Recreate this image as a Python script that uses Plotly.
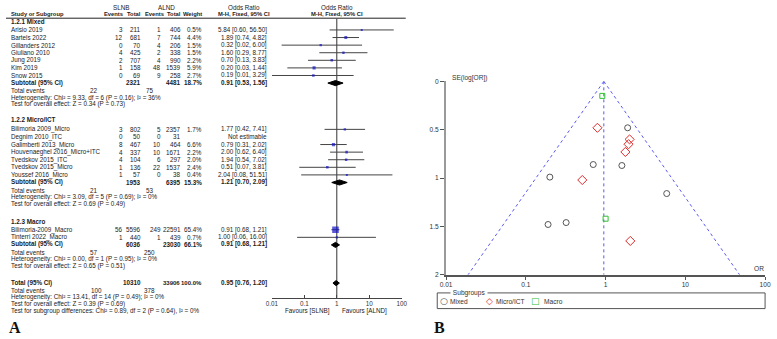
import math
import plotly.graph_objects as go

W, H = 777, 339

# ---------------- data ----------------
mixed_study = ["Arisio 2019", "Bartels 2022", "Gillanders 2012", "Giuliano 2010",
               "Jung 2019", "Kim 2019", "Snow 2015"]
mixed_slnb_events = [3, 12, 0, 4, 2, 1, 0]
mixed_slnb_total = [211, 681, 70, 425, 707, 158, 69]
mixed_alnd_events = [1, 7, 4, 2, 4, 48, 9]
mixed_alnd_total = [406, 744, 206, 338, 990, 1539, 258]
mixed_weight = [0.5, 4.4, 1.5, 1.5, 2.2, 5.9, 2.7]
mixed_or = [5.84, 1.89, 0.32, 1.60, 0.70, 0.20, 0.19]
mixed_lo = [0.60, 0.74, 0.02, 0.29, 0.13, 0.03, 0.01]
mixed_hi = [56.50, 4.82, 6.00, 8.77, 3.83, 1.44, 3.29]
mixed_sub = dict(slnb_total=2321, alnd_total=4481, weight=18.7, or_=0.91, lo=0.53, hi=1.56,
                 ev_slnb=22, ev_alnd=75,
                 het="Heterogeneity: Chi² = 9.33, df = 6 (P = 0.16); I² = 36%",
                 test="Test for overall effect: Z = 0.34 (P = 0.73)")

micro_study = ["Bilimoria 2009_Micro", "Degnim 2010_ITC", "Galimberti 2013_Micro",
               "Houvenaeghel 2016_Micro+ITC", "Tvedskov 2015_ITC", "Tvedskov 2015_Micro",
               "Youssef 2016_Micro"]
micro_slnb_events = [3, 0, 8, 4, 4, 1, 1]
micro_slnb_total = [802, 50, 467, 337, 104, 136, 57]
micro_alnd_events = [5, 0, 10, 10, 6, 22, 0]
micro_alnd_total = [2357, 31, 464, 1671, 297, 1537, 38]
micro_weight = [1.7, None, 6.6, 2.2, 2.0, 2.4, 0.4]
micro_or = [1.77, None, 0.79, 2.00, 1.94, 0.51, 2.04]
micro_lo = [0.42, None, 0.31, 0.62, 0.54, 0.07, 0.08]
micro_hi = [7.41, None, 2.02, 6.40, 7.02, 3.81, 51.51]
micro_sub = dict(slnb_total=1953, alnd_total=6395, weight=15.3, or_=1.21, lo=0.70, hi=2.09,
                 ev_slnb=21, ev_alnd=53,
                 het="Heterogeneity: Chi² = 3.09, df = 5 (P = 0.69); I² = 0%",
                 test="Test for overall effect: Z = 0.69 (P = 0.49)")

macro_study = ["Bilimoria-2009_Macro", "Tinterri 2022_Macro"]
macro_slnb_events = [56, 1]
macro_slnb_total = [5596, 440]
macro_alnd_events = [249, 1]
macro_alnd_total = [22591, 439]
macro_weight = [65.4, 0.7]
macro_or = [0.91, 1.00]
macro_lo = [0.68, 0.06]
macro_hi = [1.21, 16.00]
macro_sub = dict(slnb_total=6036, alnd_total=23030, weight=66.1, or_=0.91, lo=0.68, hi=1.21,
                 ev_slnb=57, ev_alnd=250,
                 het="Heterogeneity: Chi² = 0.00, df = 1 (P = 0.95); I² = 0%",
                 test="Test for overall effect: Z = 0.65 (P = 0.51)")

overall = dict(slnb_total=10310, alnd_total=33906, weight=100.0, or_=0.95, lo=0.76, hi=1.20,
               ev_slnb=100, ev_alnd=378,
               het="Heterogeneity: Chi² = 13.41, df = 14 (P = 0.49); I² = 0%",
               test="Test for overall effect: Z = 0.39 (P = 0.69)",
               sub="Test for subgroup differences: Chi² = 0.89, df = 2 (P = 0.64), I² = 0%")

section_titles = ["1.2.1 Mixed", "1.2.2 Micro/ICT", "1.2.3 Macro"]
forest_ticks = [0.01, 0.1, 1, 10, 100]
forest_ticktext = ["0.01", "0.1", "1", "10", "100"]

# funnel plot points (OR, SE(log OR)) per subgroup
funnel_mixed_or = [5.84, 1.89, 0.32, 1.60, 0.70, 0.20, 0.19]
funnel_mixed_se = [1.16, 0.48, 1.46, 0.87, 0.86, 0.99, 1.48]
funnel_micro_or = [1.77, 0.79, 2.00, 1.94, 0.51, 2.04]
funnel_micro_se = [0.73, 0.48, 0.60, 0.65, 1.02, 1.65]
funnel_macro_or = [0.91, 1.00]
funnel_macro_se = [0.15, 1.42]
funnel_pooled_or = 0.95
funnel_se_max = 2.0
funnel_yticks = [0, 0.5, 1, 1.5, 2]
funnel_yticktext = ["0", "0.5", "1", "1.5", "2"]
subgroup_names = ["Mixed", "Micro/ICT", "Macro"]

# ---------------- styling / layout ----------------
FONT = "Liberation Sans, Arial, sans-serif"
FS = 6.3
HFS = 5.8
TC = "#1a1a1a"
ROW = 7.75

COL_EV1, COL_TOT1, COL_EV2, COL_TOT2, COL_WT, COL_CI = 120, 138, 158, 179, 200, 266
COL_TEV1, COL_TEV2 = 89, 146

ANN = []


def txt(px, py, s, align="left", bold=False, size=FS, color=TC, family=FONT, bg=None):
    if bold:
        s = "<b>" + s + "</b>"
    d = dict(x=px / W, y=py, xref="paper", yref="y", text=s, showarrow=False,
             xanchor=align, yanchor="middle", borderpad=0,
             font=dict(size=size, color=color, family=family))
    if bg:
        d["bgcolor"] = bg
    ANN.append(d)


def fmt_ci(o, lo, hi):
    return f"{o:.2f} [{lo:.2f}, {hi:.2f}]"


fig = go.Figure()

# headers
txt(117, 3.5, "SLNB", "center")
txt(163, 3.5, "ALND", "center")
txt(242, 3.5, "Odds Ratio", "center")
txt(336, 3.5, "Odds Ratio", "center")
txt(4, 10.5, "Study or Subgroup", "left", bold=True, size=HFS)
txt(COL_EV1, 10.5, "Events", "right", bold=True, size=HFS)
txt(COL_TOT1, 10.5, "Total", "right", bold=True, size=HFS)
txt(COL_EV2 + 4, 10.5, "Events", "right", bold=True, size=HFS)
txt(COL_TOT2, 10.5, "Total", "right", bold=True, size=HFS)
txt(COL_WT, 10.5, "Weight", "right", bold=True, size=HFS)
txt(242, 10.5, "M-H, Fixed, 95% CI", "center", bold=True, size=HFS)
txt(336, 10.5, "M-H, Fixed, 95% CI", "center", bold=True, size=HFS)

sections = [
    (section_titles[0], mixed_study, mixed_slnb_events, mixed_slnb_total, mixed_alnd_events,
     mixed_alnd_total, mixed_weight, mixed_or, mixed_lo, mixed_hi, mixed_sub),
    (section_titles[1], micro_study, micro_slnb_events, micro_slnb_total, micro_alnd_events,
     micro_alnd_total, micro_weight, micro_or, micro_lo, micro_hi, micro_sub),
    (section_titles[2], macro_study, macro_slnb_events, macro_slnb_total, macro_alnd_events,
     macro_alnd_total, macro_weight, macro_or, macro_lo, macro_hi, macro_sub),
]
section_start = [18, 118, 222]

ci_x, ci_y, sq_x, sq_y, sq_s = [], [], [], [], []
diamonds = []
for (title, st, e1, t1, e2, t2, wt, orv, lo, hi, sub), y0 in zip(sections, section_start):
    txt(4, y0, title, "left", bold=True)
    y = y0 + 8.5 if y0 != 118 else y0 + 10
    for i in range(len(st)):
        txt(4, y, st[i])
        txt(COL_EV1, y, str(e1[i]), "right")
        txt(COL_TOT1, y, str(t1[i]), "right")
        txt(COL_EV2, y, str(e2[i]), "right")
        txt(COL_TOT2, y, str(t2[i]), "right")
        if orv[i] is None:
            txt(COL_CI, y, "Not estimable", "right")
        else:
            txt(COL_WT, y, f"{wt[i]:.1f}%", "right")
            txt(COL_CI, y, fmt_ci(orv[i], lo[i], hi[i]), "right")
            ci_x += [lo[i], hi[i], None]
            ci_y += [y, y, None]
            sq_x.append(orv[i])
            sq_y.append(y)
            sq_s.append(1.6 + 5.0 * math.sqrt(wt[i] / 65.4))
        y += ROW
    ys = y - 0.5
    txt(4, ys, "Subtotal (95% CI)", bold=True)
    txt(COL_TOT1, ys, str(sub["slnb_total"]), "right", bold=True)
    txt(COL_TOT2, ys, str(sub["alnd_total"]), "right", bold=True)
    txt(COL_WT, ys, f"{sub['weight']:.1f}%", "right", bold=True)
    txt(COL_CI, ys, fmt_ci(sub["or_"], sub["lo"], sub["hi"]), "right", bold=True)
    diamonds.append((sub["or_"], sub["lo"], sub["hi"], ys + 0.5))
    yt = ys + 8.3
    txt(4, yt, "Total events")
    txt(COL_TEV1, yt, str(sub["ev_slnb"]), "center")
    txt(COL_TEV2, yt, str(sub["ev_alnd"]), "center")
    txt(4, yt + 7, sub["het"])
    txt(4, yt + 14, sub["test"])

# overall
yo = 284.5
txt(4, yo, "Total (95% CI)", bold=True)
txt(COL_TOT1, yo, str(overall["slnb_total"]), "right", bold=True)
txt(COL_TOT2 - 1, yo, str(overall["alnd_total"]), "right", bold=True, size=6.0)
txt(COL_WT, yo, f"{overall['weight']:.1f}%", "right", bold=True, size=6.0)
txt(COL_CI, yo, fmt_ci(overall["or_"], overall["lo"], overall["hi"]), "right", bold=True)
diamonds.append((overall["or_"], overall["lo"], overall["hi"], yo + 0.5))
txt(4, yo + 8, "Total events")
txt(COL_TEV1 + 3, yo + 8, str(overall["ev_slnb"]), "center")
txt(COL_TEV2, yo + 8, str(overall["ev_alnd"]), "center")
txt(4, yo + 15, overall["het"])
txt(4, yo + 22, overall["test"])
txt(4, yo + 29, overall["sub"])

# favours labels
txt(330, 313, "Favours [SLNB]", "right")
txt(340, 313, "Favours [ALND]", "left")

# panel letters
SERIF = "Liberation Serif, Times New Roman, serif"
txt(2, 330, "A", "left", bold=True, size=16, color="#111", family=SERIF)
txt(434, 330, "B", "left", bold=True, size=16, color="#111", family=SERIF)

# forest marks
fig.add_trace(go.Scatter(x=[1, 1], y=[15, 300], mode="lines", line=dict(color="#333", width=1),
                         xaxis="x", yaxis="y", showlegend=False, hoverinfo="skip"))
fig.add_trace(go.Scatter(x=ci_x, y=ci_y, mode="lines", line=dict(color="#444", width=1),
                         xaxis="x", yaxis="y", showlegend=False, hoverinfo="skip", connectgaps=False))
fig.add_trace(go.Scatter(x=sq_x, y=sq_y, mode="markers",
                         marker=dict(symbol="square", size=sq_s, color="#1414c8", line=dict(width=0)),
                         xaxis="x", yaxis="y", showlegend=False))
for o, lo, hi, yd in diamonds:
    hh = 2.6
    fig.add_trace(go.Scatter(x=[lo, o, hi, o, lo], y=[yd, yd - hh, yd, yd + hh, yd], mode="lines",
                             fill="toself", fillcolor="#000", line=dict(color="#000", width=1),
                             xaxis="x", yaxis="y", showlegend=False, hoverinfo="skip"))

# funnel guide lines (pooled OR and pseudo 95% limits)
z = 1.96 * funnel_se_max
fl_x = [funnel_pooled_or, funnel_pooled_or, None,
        funnel_pooled_or, funnel_pooled_or * math.exp(-z), None,
        funnel_pooled_or, funnel_pooled_or * math.exp(z)]
fl_y = [0, funnel_se_max, None, 0, funnel_se_max, None, 0, funnel_se_max]
fig.add_trace(go.Scatter(x=fl_x, y=fl_y, mode="lines", line=dict(color="#5a5af0", width=1, dash="dot"),
                         xaxis="x2", yaxis="y2", showlegend=False, hoverinfo="skip"))
fig.add_trace(go.Scatter(x=funnel_mixed_or, y=funnel_mixed_se, mode="markers", name=subgroup_names[0],
                         marker=dict(symbol="circle-open", size=6, color="#555", line=dict(width=1)),
                         xaxis="x2", yaxis="y2", showlegend=False))
fig.add_trace(go.Scatter(x=funnel_micro_or, y=funnel_micro_se, mode="markers", name=subgroup_names[1],
                         marker=dict(symbol="diamond-open", size=7, color="#e02a2a", line=dict(width=1)),
                         xaxis="x2", yaxis="y2", showlegend=False))
fig.add_trace(go.Scatter(x=funnel_macro_or, y=funnel_macro_se, mode="markers", name=subgroup_names[2],
                         marker=dict(symbol="square-open", size=5, color="#2fc02f", line=dict(width=1)),
                         xaxis="x2", yaxis="y2", showlegend=False))

# funnel annotations
txt(452, 76, "SE(log[OR])", "left", size=6.6, color="#333")
txt(759, 270, "OR", "left", size=6.6, color="#333")

shapes = [
    dict(type="line", xref="paper", yref="y", x0=0, x1=406 / W, y0=14.5, y1=14.5,
         line=dict(color="#222", width=1)),
    dict(type="rect", xref="paper", yref="y", x0=438 / W, x1=771 / W, y0=295, y1=311,
         line=dict(color="#555", width=1), fillcolor="rgba(0,0,0,0)"),
]
txt(451, 295, " Subgroups ", "left", size=6.6, color="#333", bg="white")
leg = [(445, 450, "○", "#555", subgroup_names[0]),
       (491, 497, "◇", "#e02a2a", subgroup_names[1]),
       (538, 545, "□", "#2fc02f", subgroup_names[2])]
for gx, tx, g, c, name in leg:
    txt(gx, 303.5, g, "center", size=9, color=c, family="DejaVu Sans")
    txt(tx, 303.5, name, "left", size=6.6, color="#333")

fig.update_layout(
    width=W, height=H, autosize=False,
    margin=dict(l=0, r=0, t=0, b=0, pad=0),
    paper_bgcolor="white", plot_bgcolor="rgba(0,0,0,0)",
    showlegend=False,
    xaxis=dict(type="log", range=[-2, 2], domain=[270 / W, 402 / W], anchor="free",
               position=1 - 300 / H, tickvals=forest_ticks, ticktext=forest_ticktext,
               ticks="inside", ticklen=3, tickcolor="#444", showline=True, linecolor="#444",
               linewidth=1, showgrid=False, zeroline=False,
               tickfont=dict(size=6.3, color="#333", family=FONT)),
    yaxis=dict(domain=[0, 1], range=[H, 0], visible=False, showgrid=False, zeroline=False),
    xaxis2=dict(type="log", range=[-2, 2], domain=[447 / W, 771 / W], anchor="y2",
                tickvals=forest_ticks, ticktext=forest_ticktext, ticks="outside", ticklen=3,
                tickcolor="#555", showline=True, linecolor="#555", linewidth=1.5,
                showgrid=False, zeroline=False, tickfont=dict(size=6.6, color="#333", family=FONT)),
    yaxis2=dict(range=[funnel_se_max, 0], domain=[1 - 276.5 / H, 1 - 79 / H], anchor="x2",
                tickvals=funnel_yticks, ticktext=funnel_yticktext, ticks="outside", ticklen=4,
                tickcolor="#555", showline=True, linecolor="#9a9a9a", linewidth=2,
                showgrid=False, zeroline=False, tickfont=dict(size=6.6, color="#333", family=FONT)),
    annotations=ANN,
    shapes=shapes,
)

fig.write_html("out.html", config={"displayModeBar": False},
               post_script="document.body.style.margin='0';document.body.style.padding='0';")
